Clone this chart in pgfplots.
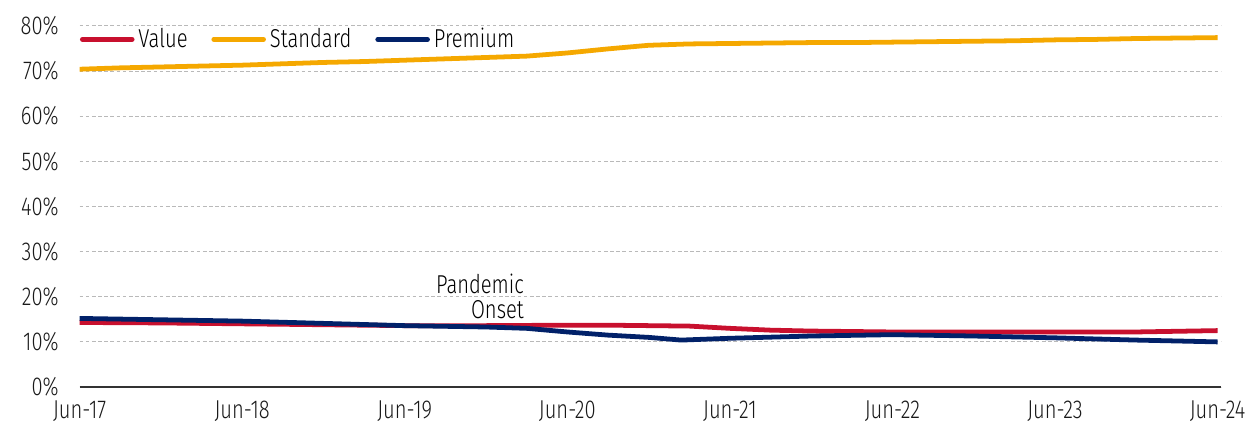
\documentclass[border=0pt]{standalone}
\usepackage{fontspec}
\setmainfont{Fira Sans Light}[FakeStretch=0.78]
\usepackage{pgfplots}
\pgfplotsset{compat=1.18}
\definecolor{cValue}{HTML}{C8102E}
\definecolor{cStd}{HTML}{F5A800}
\definecolor{cPrem}{HTML}{012169}
\begin{document}
\fontsize{13}{12.5}\selectfont
\begin{tikzpicture}
\path (-40pt,-21pt) rectangle (587pt,194.5pt);
\begin{axis}[
  scale only axis, width=573.5pt, height=181.5pt,
  xmin=0, xmax=7.02, ymin=0, ymax=80,
  axis line style={draw=none},
  tick style={draw=none},
  xtick={0,1,2,3,4,5,6,7},
  xticklabels={Jun-17,Jun-18,Jun-19,Jun-20,Jun-21,Jun-22,Jun-23,Jun-24},
  ytick={0,10,20,30,40,50,60,70,80},
  yticklabel={\pgfmathprintnumber{\tick}\%},
  /pgf/number format/assume math mode=true,
  ticklabel style={font=\fontsize{13}{12.5}\selectfont, text=black!90},
  xticklabel style={yshift=-2.5pt},
  yticklabel style={xshift=-6pt},
  ymajorgrids,
  major grid style={dashed, dash pattern=on 1.8pt off 1.3pt, gray!55, line width=0.5pt},
  extra y ticks={0}, extra y tick labels={},
  extra y tick style={grid=major, major grid style={solid, black!80, line width=1.2pt}},
  legend style={at={(rel axis cs:0,0.9625)}, anchor=west, draw=none, fill=none,
    legend columns=-1, inner sep=0pt, font=\fontsize{13}{12.5}\selectfont,
    /tikz/every even column/.style={column sep=10pt}},
  legend image code/.code={\draw[#1, line cap=round] (0pt,0pt) -- (25pt,0pt);},
  every axis plot/.append style={line width=2.4pt, line join=round},
  clip=false,
]
\addplot[cValue] coordinates {
(0,14.3) (0.5,14.2) (1,14.0) (1.5,13.8) (2,13.6) (2.5,13.6) (3,13.7) (3.25,13.7)
(3.5,13.6) (3.75,13.5) (4,13.0) (4.25,12.6) (4.5,12.4) (5,12.2) (5.5,12.2)
(6,12.2) (6.5,12.2) (7,12.5)};
\addlegendentry{Value}
\addplot[cStd] coordinates {
(0,70.4) (0.25,70.7) (0.5,70.9) (0.75,71.1) (1,71.3) (1.25,71.6) (1.5,71.9)
(1.75,72.1) (2,72.4) (2.25,72.7) (2.5,73.0) (2.75,73.3) (3,74.0) (3.25,74.9)
(3.5,75.7) (3.75,76.0) (4,76.1) (4.25,76.2) (4.5,76.3) (4.75,76.3) (5,76.4)
(5.25,76.5) (5.5,76.6) (5.75,76.7) (6,76.9) (6.25,77.0) (6.5,77.2) (6.75,77.3) (7,77.4)};
\addlegendentry{Standard}
\addplot[cPrem] coordinates {
(0,15.2) (0.5,14.9) (1,14.6) (1.5,14.1) (2,13.6) (2.5,13.3) (2.75,13.0) (3,12.2)
(3.25,11.5) (3.5,11.0) (3.7,10.4) (4,10.8) (4.5,11.3) (5,11.6) (5.5,11.3)
(6,10.9) (6.5,10.4) (7,10.0)};
\addlegendentry{Premium}
\node[anchor=east, align=right, inner sep=0pt, font=\fontsize{13}{12.5}\selectfont]
  at (axis cs:2.735,20.15) {Pandemic\\Onset};
\end{axis}
\end{tikzpicture}
\end{document}
